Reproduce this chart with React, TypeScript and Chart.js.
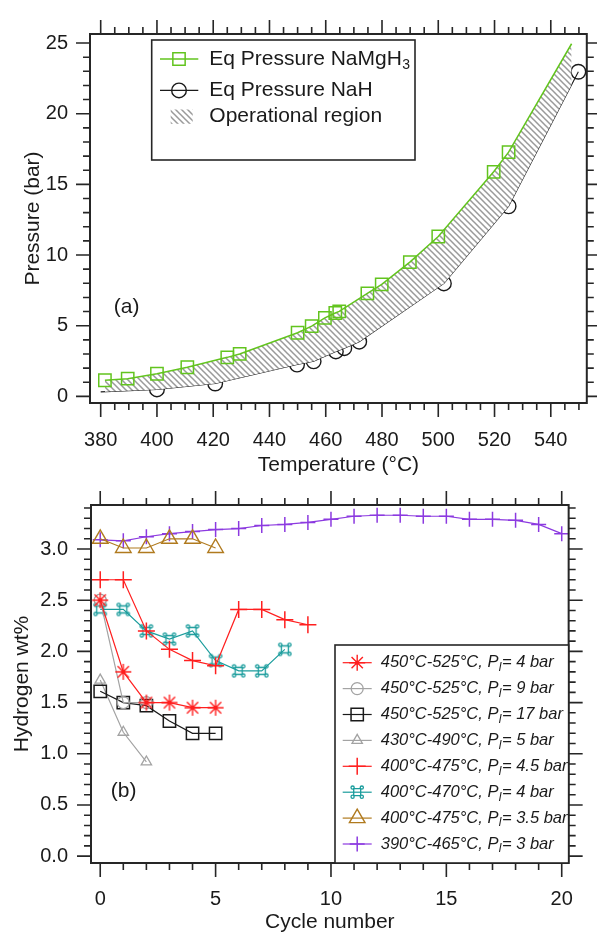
import React, { useEffect, useRef } from 'react';
import { Chart, registerables } from 'chart.js';

Chart.register(...registerables);

const FONT = "'Liberation Sans', Arial, Helvetica, sans-serif";
const TEXT = '#1a1a1a';
const AXIS = '#262626';

// ---------- Panel (a): equilibrium pressures ----------
const NAMGH3_T = [381.5, 389.6, 400, 410.8, 425, 429.4, 450, 455, 459.7, 463.4, 464.8, 474.8, 479.9, 489.9, 500, 519.7, 525, 547.4];
const NAMGH3_P = [1.14, 1.25, 1.6, 2.06, 2.76, 3.0, 4.5, 4.97, 5.55, 5.9, 6.01, 7.29, 7.92, 9.5, 11.31, 15.89, 17.28, 24.95];
const NAH_T = [380, 400, 420.7, 449.8, 455.7, 463.6, 466.6, 471.9, 502, 525, 549.8];
const NAH_P = [0.32, 0.49, 0.91, 2.25, 2.48, 3.18, 3.41, 3.87, 7.99, 13.45, 22.97];
const TEMP_TICKS = [380, 400, 420, 440, 460, 480, 500, 520, 540];
const PRESSURE_TICKS = [0, 5, 10, 15, 20, 25];
const LEGEND_A = [
  { text: 'Eq Pressure NaMgH', sub: '3' },
  { text: 'Eq Pressure NaH', sub: '' },
  { text: 'Operational region', sub: '' },
];

// ---------- Panel (b): cycling ----------
const CYCLES = [0, 1, 2, 3, 4, 5, 6, 7, 8, 9, 10, 11, 12, 13, 14, 15, 16, 17, 18, 19, 20];
const S_450_525_4 = [2.5, 1.8, 1.5, 1.5, 1.45, 1.45];
const S_450_525_9 = [2.5, 1.5, 1.5];
const S_450_525_17 = [1.61, 1.5, 1.47, 1.32, 1.2, 1.2];
const S_430_490_5 = [1.72, 1.21, 0.92];
const S_400_475_45 = [2.7, 2.7, 2.2, 2.02, 1.91, 1.86, 2.41, 2.41, 2.31, 2.26];
const S_400_470_4 = [2.41, 2.41, 2.2, 2.12, 2.2, 1.91, 1.81, 1.81, 2.02];
const S_400_475_35 = [3.1, 3.01, 3.01, 3.1, 3.1, 3.01];
const S_390_465_3 = [3.09, 3.08, 3.12, 3.15, 3.17, 3.19, 3.2, 3.23, 3.24, 3.26, 3.29, 3.32, 3.33, 3.33, 3.32, 3.32, 3.29, 3.29, 3.28, 3.24, 3.15];
const RANGES = ['450°C-525°C', '450°C-525°C', '450°C-525°C', '430°C-490°C', '400°C-475°C', '400°C-470°C', '400°C-475°C', '390°C-465°C'];
const PRESSURES = ['4', '9', '17', '5', '4.5', '4', '3.5', '3'];
const CYCLE_TICKS = [0, 5, 10, 15, 20];
const WT_TICKS = [0, 0.5, 1.0, 1.5, 2.0, 2.5, 3.0];

type Kind = 'rect' | 'circle' | 'cross' | 'triangle' | 'star' | 'orn';

function drawMarker(ctx: CanvasRenderingContext2D, kind: Kind, x: number, y: number, r: number, color: string, lw: number) {
  ctx.save();
  ctx.strokeStyle = color;
  ctx.fillStyle = color;
  ctx.lineWidth = lw;
  ctx.beginPath();
  if (kind === 'rect') {
    const s = r * Math.SQRT1_2;
    ctx.rect(x - s, y - s, 2 * s, 2 * s);
    ctx.stroke();
  } else if (kind === 'circle') {
    ctx.arc(x, y, r, 0, Math.PI * 2);
    ctx.stroke();
  } else if (kind === 'cross') {
    ctx.moveTo(x - r, y); ctx.lineTo(x + r, y);
    ctx.moveTo(x, y - r); ctx.lineTo(x, y + r);
    ctx.stroke();
  } else if (kind === 'triangle') {
    for (let i = 0; i < 3; i++) {
      const a = (i * 2 * Math.PI) / 3;
      const px = x + Math.sin(a) * r, py = y - Math.cos(a) * r;
      if (i === 0) ctx.moveTo(px, py); else ctx.lineTo(px, py);
    }
    ctx.closePath();
    ctx.stroke();
  } else if (kind === 'star') {
    for (let i = 0; i < 4; i++) {
      const a = (i * Math.PI) / 4;
      ctx.moveTo(x - Math.cos(a) * r, y - Math.sin(a) * r);
      ctx.lineTo(x + Math.cos(a) * r, y + Math.sin(a) * r);
    }
    ctx.stroke();
    ctx.beginPath();
    ctx.arc(x, y, 2, 0, Math.PI * 2);
    ctx.fill();
  } else if (kind === 'orn') {
    const a = r * 0.5;
    ctx.rect(x - a, y - a, 2 * a, 2 * a);
    ctx.stroke();
    const o = a + 1.1, cr = 1.6;
    [[-1, -1], [1, -1], [1, 1], [-1, 1]].forEach(([sx, sy]) => {
      ctx.beginPath();
      ctx.arc(x + sx * o, y + sy * o, cr, 0, Math.PI * 2);
      ctx.stroke();
    });
  }
  ctx.restore();
}

function markerCanvas(kind: Kind, r: number, color: string, lw: number) {
  const size = Math.ceil(2 * r + lw + 4);
  const c = document.createElement('canvas');
  c.width = size; c.height = size;
  const g = c.getContext('2d')!;
  drawMarker(g, kind, size / 2, size / 2, r, color, lw);
  return c;
}

function makeHatch(ctx: CanvasRenderingContext2D) {
  const c = document.createElement('canvas');
  c.width = 6; c.height = 6;
  const g = c.getContext('2d')!;
  g.fillStyle = '#ffffff';
  g.fillRect(0, 0, 6, 6);
  g.strokeStyle = '#9a9a9a';
  g.lineWidth = 1.5;
  g.beginPath();
  g.moveTo(-1, -1); g.lineTo(7, 7);
  g.moveTo(-1, 5); g.lineTo(1, 7);
  g.moveTo(5, -1); g.lineTo(7, 1);
  g.stroke();
  return ctx.createPattern(c, 'repeat')!;
}

interface FrameCfg {
  xMajor: number[]; xMinorFrom: number; xMinorTo: number; xMinorStep: number;
  yMajor: number[]; yMinorFrom: number; yMinorTo: number; yMinorStep: number;
  majorLen: number; minorLen: number;
  extras: (chart: any) => void;
}

function framePlugin(cfg: FrameCfg) {
  return {
    id: 'frame',
    afterDatasetsDraw(chart: any) {
      const { ctx, chartArea: a, scales } = chart;
      const xs = scales.x, ys = scales.y;
      ctx.save();
      ctx.strokeStyle = AXIS;
      ctx.lineWidth = 1.6;
      ctx.beginPath();
      const isMajor = (arr: number[], v: number) => arr.some((m) => Math.abs(m - v) < 1e-6);
      for (let v = cfg.xMinorFrom; v <= cfg.xMinorTo + 1e-6; v += cfg.xMinorStep) {
        const len = isMajor(cfg.xMajor, v) ? cfg.majorLen : cfg.minorLen;
        const p = xs.getPixelForValue(v);
        ctx.moveTo(p, a.bottom); ctx.lineTo(p, a.bottom + len);
        ctx.moveTo(p, a.top); ctx.lineTo(p, a.top - len);
      }
      for (let v = cfg.yMinorFrom; v <= cfg.yMinorTo + 1e-6; v += cfg.yMinorStep) {
        const len = isMajor(cfg.yMajor, v) ? cfg.majorLen : cfg.minorLen;
        const p = ys.getPixelForValue(v);
        ctx.moveTo(a.left, p); ctx.lineTo(a.left - len, p);
        ctx.moveTo(a.right, p); ctx.lineTo(a.right + len, p);
      }
      ctx.stroke();
      ctx.lineWidth = 2;
      ctx.strokeRect(a.left, a.top, a.right - a.left, a.bottom - a.top);
      ctx.restore();
    },
    afterDraw(chart: any) {
      cfg.extras(chart);
    },
  };
}

const GREEN = '#62c41e';
const BLACK = '#1a1a1a';
const GRAY = '#a3a3a3';
const RED = '#ff1f1f';
const TEAL = '#1a9c9c';
const BROWN = '#b07a1e';
const PURPLE = '#8c3ae0';

const B_SERIES: { data: number[]; kind: Kind; r: number; color: string; lw: number }[] = [
  { data: S_450_525_4, kind: 'star', r: 8, color: RED, lw: 1.4 },
  { data: S_450_525_9, kind: 'circle', r: 6, color: GRAY, lw: 1.3 },
  { data: S_450_525_17, kind: 'rect', r: 8.7, color: BLACK, lw: 1.5 },
  { data: S_430_490_5, kind: 'triangle', r: 6, color: GRAY, lw: 1.3 },
  { data: S_400_475_45, kind: 'cross', r: 8.5, color: RED, lw: 1.5 },
  { data: S_400_470_4, kind: 'orn', r: 7, color: TEAL, lw: 1.3 },
  { data: S_400_475_35, kind: 'triangle', r: 9, color: BROWN, lw: 1.4 },
  { data: S_390_465_3, kind: 'cross', r: 7.5, color: PURPLE, lw: 1.5 },
];

export default function App() {
  const topRef = useRef<HTMLCanvasElement>(null);
  const botRef = useRef<HTMLCanvasElement>(null);

  useEffect(() => {
    const c1 = topRef.current!;
    const c2 = botRef.current!;
    const hatch = makeHatch(c1.getContext('2d')!);

    const tickFont = { family: FONT, size: 20 };
    const titleFont = { family: FONT, size: 21 };

    const chartA = new Chart(c1, {
      type: 'line',
      data: {
        datasets: [
          {
            label: 'Eq Pressure NaMgH3',
            data: NAMGH3_T.map((t, i) => ({ x: t, y: NAMGH3_P[i] })),
            borderColor: GREEN,
            borderWidth: 1.5,
            pointStyle: 'rect',
            pointRadius: (ctx: any) => (ctx.dataIndex === NAMGH3_T.length - 1 ? 0 : 8.7),
            pointBorderColor: GREEN,
            pointBorderWidth: 1.5,
            pointBackgroundColor: 'rgba(0,0,0,0)',
            backgroundColor: hatch as any,
            fill: { target: 1 } as any,
            tension: 0,
          },
          {
            label: 'Eq Pressure NaH',
            data: NAH_T.map((t, i) => ({ x: t, y: NAH_P[i] })),
            borderColor: BLACK,
            borderWidth: 1.1,
            pointStyle: 'circle',
            pointRadius: (ctx: any) => (ctx.dataIndex === 0 ? 0 : 7.3),
            pointBorderColor: BLACK,
            pointBorderWidth: 1.4,
            pointBackgroundColor: 'rgba(0,0,0,0)',
            fill: false,
            tension: 0,
          },
        ],
      },
      options: {
        responsive: false,
        animation: false,
        events: [],
        layout: { padding: { top: 28, right: 8, left: 0, bottom: 0 } },
        plugins: { legend: { display: false }, tooltip: { enabled: false } },
        scales: {
          x: {
            type: 'linear',
            min: 376.2,
            max: 552.8,
            grid: { display: false, drawTicks: false },
            border: { display: false },
            afterBuildTicks: (s: any) => { s.ticks = TEMP_TICKS.map((v) => ({ value: v })); },
            afterFit: (s: any) => { s.height = 77; },
            ticks: { font: tickFont, color: TEXT, padding: 25, maxRotation: 0, autoSkip: false, callback: (v: any) => String(v) },
            title: { display: true, text: 'Temperature (°C)', font: titleFont, color: TEXT, padding: { top: 0, bottom: 2.4 } },
          },
          y: {
            type: 'linear',
            min: -0.47,
            max: 25.64,
            grid: { display: false, drawTicks: false },
            border: { display: false },
            afterBuildTicks: (s: any) => { s.ticks = PRESSURE_TICKS.map((v) => ({ value: v })); },
            afterFit: (s: any) => { s.width = 90; },
            ticks: { font: tickFont, color: TEXT, padding: 22, autoSkip: false, callback: (v: any) => String(v) },
            title: { display: true, text: 'Pressure (bar)', font: titleFont, color: TEXT, padding: { top: 20.5, bottom: 0 } },
          },
        },
      } as any,
      plugins: [
        framePlugin({
          xMajor: TEMP_TICKS, xMinorFrom: 380, xMinorTo: 550, xMinorStep: 5,
          yMajor: PRESSURE_TICKS, yMinorFrom: 0, yMinorTo: 25, yMinorStep: 1,
          majorLen: 14, minorLen: 7,
          extras: (chart: any) => {
            const ctx: CanvasRenderingContext2D = chart.ctx;
            const xs = chart.scales.x, ys = chart.scales.y;
            ctx.save();
            // legend box
            const bx = 151.7, by = 40, bw = 263.3, bh = 120;
            ctx.fillStyle = '#ffffff';
            ctx.fillRect(bx, by, bw, bh);
            ctx.strokeStyle = AXIS;
            ctx.lineWidth = 1.6;
            ctx.strokeRect(bx, by, bw, bh);
            const rows = [59, 90.4, 116.5];
            // symbols
            ctx.strokeStyle = GREEN; ctx.lineWidth = 1.5;
            ctx.beginPath(); ctx.moveTo(160, rows[0]); ctx.lineTo(198.3, rows[0]); ctx.stroke();
            drawMarker(ctx, 'rect', 179, rows[0], 8.7, GREEN, 1.5);
            ctx.strokeStyle = BLACK; ctx.lineWidth = 1.1;
            ctx.beginPath(); ctx.moveTo(160, rows[1]); ctx.lineTo(198.3, rows[1]); ctx.stroke();
            drawMarker(ctx, 'circle', 179, rows[1], 7.3, BLACK, 1.4);
            ctx.fillStyle = hatch;
            ctx.fillRect(170.7, 109.5, 22, 14.3);
            // texts
            ctx.fillStyle = TEXT;
            ctx.textBaseline = 'middle';
            ctx.textAlign = 'left';
            LEGEND_A.forEach((item, i) => {
              ctx.font = `21px ${FONT}`;
              ctx.fillText(item.text, 209.3, rows[i]);
              if (item.sub) {
                const w = ctx.measureText(item.text).width;
                ctx.font = `14px ${FONT}`;
                ctx.fillText(item.sub, 209.3 + w + 0.5, rows[i] + 6);
              }
            });
            // panel label
            ctx.font = `21px ${FONT}`;
            ctx.textAlign = 'center';
            ctx.fillText('(a)', xs.getPixelForValue(389.2), ys.getPixelForValue(6.29));
            ctx.restore();
          },
        }),
      ],
    });

    const chartB = new Chart(c2, {
      type: 'line',
      data: {
        datasets: B_SERIES.map((s, k) => ({
          label: `${RANGES[k]}, Pl= ${PRESSURES[k]} bar`,
          data: s.data.map((v, i) => ({ x: CYCLES[i], y: v })),
          borderColor: s.color,
          borderWidth: 1.2,
          pointStyle: (s.kind === 'star' || s.kind === 'orn') ? markerCanvas(s.kind, s.r, s.color, s.lw) : s.kind,
          pointRadius: s.r,
          pointBorderColor: s.color,
          pointBorderWidth: s.lw,
          pointBackgroundColor: 'rgba(0,0,0,0)',
          fill: false,
          tension: 0,
          clip: false,
        })) as any,
      },
      options: {
        responsive: false,
        animation: false,
        events: [],
        layout: { padding: { top: 25, right: 8, left: 0, bottom: 0 } },
        plugins: { legend: { display: false }, tooltip: { enabled: false } },
        scales: {
          x: {
            type: 'linear',
            min: -0.4,
            max: 20.3,
            grid: { display: false, drawTicks: false },
            border: { display: false },
            afterBuildTicks: (s: any) => { s.ticks = CYCLE_TICKS.map((v) => ({ value: v })); },
            afterFit: (s: any) => { s.height = 70; },
            ticks: { font: tickFont, color: TEXT, padding: 24, maxRotation: 0, autoSkip: false, callback: (v: any) => String(v) },
            title: { display: true, text: 'Cycle number', font: titleFont, color: TEXT, padding: { top: 0, bottom: -1.6 } },
          },
          y: {
            type: 'linear',
            min: -0.067,
            max: 3.43,
            grid: { display: false, drawTicks: false },
            border: { display: false },
            afterBuildTicks: (s: any) => { s.ticks = WT_TICKS.map((v) => ({ value: v })); },
            afterFit: (s: any) => { s.width = 91; },
            ticks: { font: tickFont, color: TEXT, padding: 23, autoSkip: false, callback: (v: any) => Number(v).toFixed(1) },
            title: { display: true, text: 'Hydrogen wt%', font: titleFont, color: TEXT, padding: { top: 9.4, bottom: 0 } },
          },
        },
      } as any,
      plugins: [
        framePlugin({
          xMajor: CYCLE_TICKS, xMinorFrom: 0, xMinorTo: 20, xMinorStep: 1,
          yMajor: WT_TICKS, yMinorFrom: 0, yMinorTo: 3.4, yMinorStep: 0.1,
          majorLen: 14, minorLen: 7,
          extras: (chart: any) => {
            const ctx: CanvasRenderingContext2D = chart.ctx;
            const xs = chart.scales.x, ys = chart.scales.y;
            const a = chart.chartArea;
            ctx.save();
            const bx = 335, by = 175;
            const bw = a.right - bx, bh = a.bottom - by;
            ctx.fillStyle = '#ffffff';
            ctx.fillRect(bx, by, bw, bh);
            ctx.strokeStyle = AXIS;
            ctx.lineWidth = 1.6;
            ctx.strokeRect(bx, by, bw, bh);
            const y0 = 192.7, dy = 25.9;
            B_SERIES.forEach((s, k) => {
              const y = y0 + k * dy;
              ctx.strokeStyle = s.color;
              ctx.lineWidth = 1.2;
              ctx.beginPath(); ctx.moveTo(342.7, y); ctx.lineTo(371.7, y); ctx.stroke();
              drawMarker(ctx, s.kind, 357.2, y, s.r, s.color, s.lw);
              ctx.fillStyle = TEXT;
              ctx.textBaseline = 'middle';
              ctx.textAlign = 'left';
              let tx = 380.7;
              const pre = `${RANGES[k]}, P`;
              ctx.font = `italic 16.5px ${FONT}`;
              ctx.fillText(pre, tx, y);
              tx += ctx.measureText(pre).width;
              ctx.font = `italic 12px ${FONT}`;
              ctx.fillText('l', tx + 0.3, y + 5);
              tx += ctx.measureText('l').width + 0.8;
              ctx.font = `italic 16.5px ${FONT}`;
              ctx.fillText(`= ${PRESSURES[k]} bar`, tx, y);
            });
            ctx.font = `21px ${FONT}`;
            ctx.fillStyle = TEXT;
            ctx.textAlign = 'center';
            ctx.textBaseline = 'middle';
            ctx.fillText('(b)', xs.getPixelForValue(1.01), ys.getPixelForValue(0.63));
            ctx.restore();
          },
        }),
      ],
    });

    return () => {
      chartA.destroy();
      chartB.destroy();
    };
  }, []);

  return (
    <div style={{ position: 'absolute', left: 0, top: 0, width: 597, height: 933, background: '#ffffff', overflow: 'hidden' }}>
      <canvas ref={topRef} width={597} height={480} style={{ position: 'absolute', left: 0, top: 0, width: 597, height: 480 }} />
      <canvas ref={botRef} width={597} height={463} style={{ position: 'absolute', left: 0, top: 470, width: 597, height: 463 }} />
    </div>
  );
}
